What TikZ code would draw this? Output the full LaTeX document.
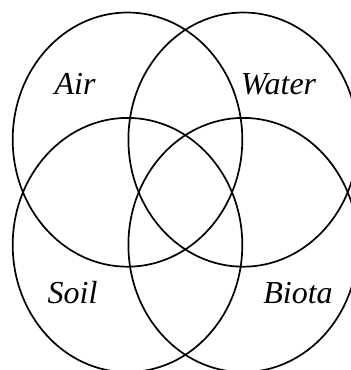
\documentclass[tikz,border=0pt]{standalone}
\usepackage{fontspec}
\setmainfont{Liberation Serif}
\begin{document}
\begin{tikzpicture}[x=1pt,y=-1pt,
  ring/.style={draw=black,line width=1.7pt},
  lbl/.style={font=\fontsize{32}{32}\selectfont\itshape,anchor=base,inner sep=0pt}]
\useasboundingbox (0,0) rectangle (351,370);
\clip (0,0) rectangle (351,370);
\draw[ring] (127.5,139.6) ellipse [x radius=114.8, y radius=127.1];
\draw[ring] (243.2,139.6) ellipse [x radius=114.8, y radius=127.1];
\draw[ring] (127.5,245.0) ellipse [x radius=114.8, y radius=127.1];
\draw[ring] (243.2,245.0) ellipse [x radius=114.8, y radius=127.1];
\node[lbl] (air) at (75,94.3) {Air};
\node[lbl] (water) at (278.5,94.3) {Water};
\node[lbl] (soil) at (72.5,303.3) {Soil};
\node[lbl] (biota) at (298,303.3) {Biota};
\end{tikzpicture}
\end{document}
